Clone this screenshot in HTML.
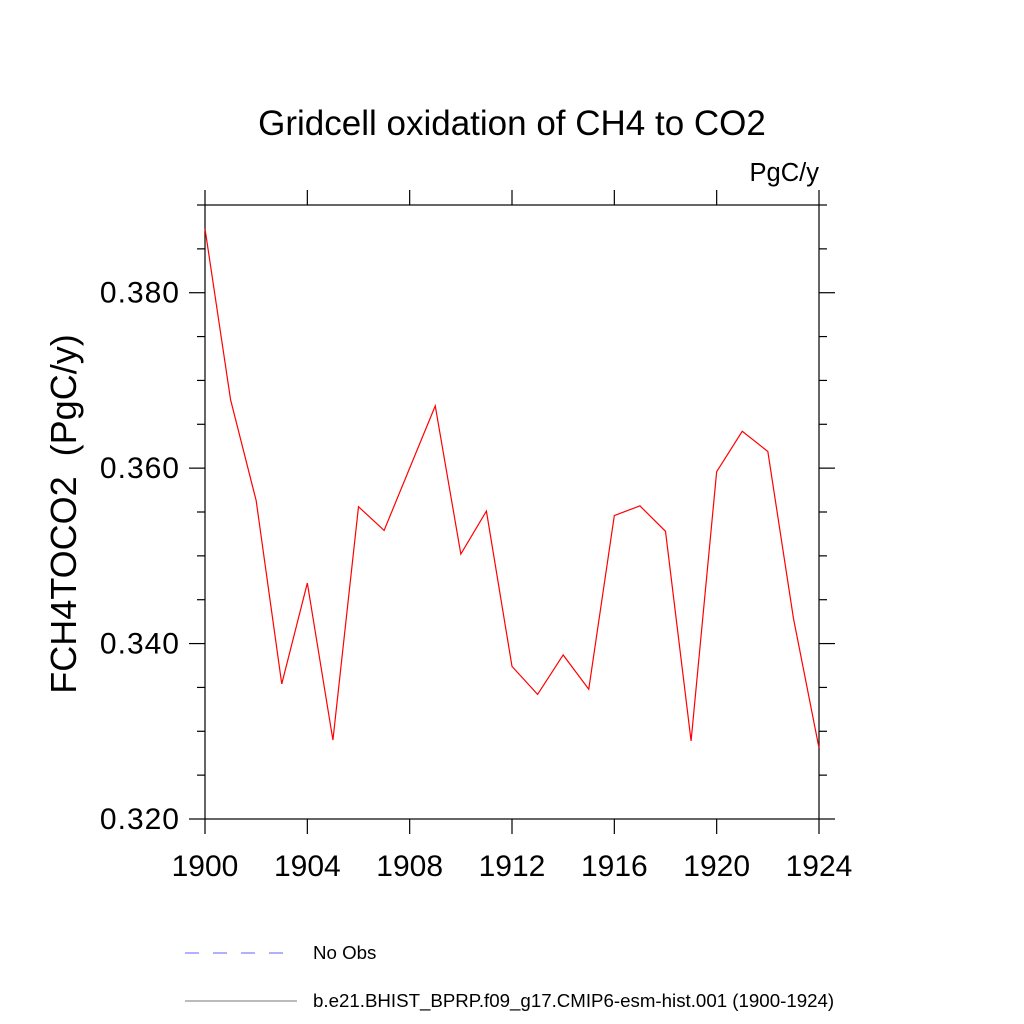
<!DOCTYPE html>
<html><head><meta charset="utf-8"><style>body{margin:0;background:#fff}svg{display:block}text{font-family:"Liberation Sans",sans-serif}</style></head>
<body>
<svg id="c" width="1024" height="1024">
<text x="512" y="135" font-size="35" text-anchor="middle">Gridcell oxidation of CH4 to CO2</text>
<text x="819" y="181" font-size="25.5" text-anchor="end">PgC/y</text>
<text transform="translate(76,514) rotate(-90)" font-size="36" text-anchor="middle">FCH4TOCO2&#160;&#160;(PgC/y)</text>
<g id="ax"></g>
<line x1="185" y1="953" x2="295" y2="953" stroke="#6060ff" stroke-width="1" stroke-dasharray="14,14"/>
<text x="313" y="959" font-size="18.7">No Obs</text>
<line x1="185" y1="1001" x2="297" y2="1001" stroke="#777" stroke-width="1"/>
<text x="313" y="1007" font-size="18.7">b.e21.BHIST_BPRP.f09_g17.CMIP6-esm-hist.001 (1900-1924)</text>
</svg>
<script>
const years=[1900,1901,1902,1903,1904,1905,1906,1907,1908,1909,1910,1911,1912,1913,1914,1915,1916,1917,1918,1919,1920,1921,1922,1923,1924];
const values=[0.3873,0.3678,0.3563,0.3354,0.3469,0.3290,0.3556,0.3529,0.3600,0.3671,0.3502,0.3551,0.3374,0.3342,0.3387,0.3348,0.3546,0.3557,0.3528,0.3289,0.3596,0.3642,0.3619,0.3429,0.3281];
const xTicks=[1900,1904,1908,1912,1916,1920,1924];
const yTicks=[0.32,0.34,0.36,0.38];
const yTickLabels=["0.320","0.340","0.360","0.380"];
const X0=205,X1=819,Y0=819,Y1=205,xmin=1900,xmax=1924,ymin=0.32,ymax=0.39;
const sx=v=>X0+(v-xmin)/(xmax-xmin)*(X1-X0);
const sy=v=>Y0-(v-ymin)/(ymax-ymin)*(Y0-Y1);
const NS="http://www.w3.org/2000/svg",g=document.getElementById('ax');
function mk(t,a){const e=document.createElementNS(NS,t);for(const k in a)e.setAttribute(k,a[k]);g.appendChild(e);return e;}
const frame=mk('rect',{x:X0,y:Y1,width:X1-X0,height:Y0-Y1,fill:'none',stroke:'#000','stroke-width':1.2});


xTicks.forEach(v=>{const x=sx(v);
 mk('line',{x1:x,y1:Y0,x2:x,y2:Y0+15,stroke:'#000','stroke-width':1.2});
 mk('line',{x1:x,y1:Y1,x2:x,y2:Y1-15,stroke:'#000','stroke-width':1.2});
 const t=mk('text',{x:x,y:876,'font-size':30,'text-anchor':'middle'});t.textContent=v;
 
 });
for(let i=0;i<=14;i++){const v=ymin+i*0.005,y=sy(v),L=(i%4==0)?16:8;
 mk('line',{x1:X0,y1:y,x2:X0-L,y2:y,stroke:'#000','stroke-width':1.2});
 mk('line',{x1:X1,y1:y,x2:X1+L,y2:y,stroke:'#000','stroke-width':1.2});}
yTicks.forEach((v,i)=>{const t=mk('text',{x:180,y:sy(v)+10,'font-size':30,'text-anchor':'end','letter-spacing':'1'});t.textContent=yTickLabels[i];
 
 });
const p=mk('polyline',{points:years.map((y,i)=>sx(y)+','+sy(values[i])).join(' '),fill:'none',stroke:'#ff0000','stroke-width':1.2});


</script>
</body></html>
